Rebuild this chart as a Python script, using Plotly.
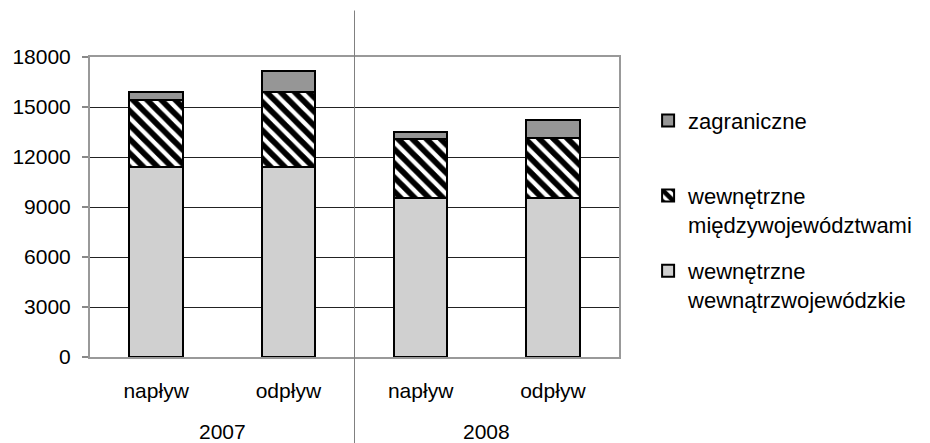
import plotly.graph_objects as go

categories = ["napływ", "odpływ", "napływ", "odpływ"]
years = ["2007", "2007", "2008", "2008"]
series_names = ["wewnętrzne<br>wewnątrzwojewódzkie", "wewnętrzne<br>międzywojewództwami", "zagraniczne<br> "]
wewnatrz = [11380, 11380, 9560, 9560]
miedzy = [4070, 4520, 3500, 3610]
zagraniczne = [450, 1245, 455, 1040]
y_ticks = [0, 3000, 6000, 9000, 12000, 15000, 18000]

xpos = list(range(len(categories)))
font_family = "Liberation Sans, Arial, sans-serif"

fig = go.Figure()
fig.add_trace(go.Bar(
    x=xpos, y=wewnatrz, name=series_names[0], legendgroup="a", legendrank=3,
    marker=dict(color="#d0d0d0", line=dict(color="black", width=2)),
    width=0.405,
))
fig.add_trace(go.Bar(
    x=xpos, y=miedzy, name=series_names[1], legendgroup="b", legendrank=2,
    marker=dict(color="white", line=dict(color="black", width=2),
                pattern=dict(shape="\\", fgcolor="black", bgcolor="white", size=10,
                             solidity=0.58, fgopacity=1)),
    width=0.405,
))
fig.add_trace(go.Bar(
    x=xpos, y=zagraniczne, name=series_names[2], legendgroup="c", legendrank=1,
    marker=dict(color="#969696", line=dict(color="black", width=2)),
    width=0.405,
))

# year labels
for yr in sorted(set(years)):
    idx = [i for i, v in enumerate(years) if v == yr]
    fig.add_annotation(x=sum(idx) / len(idx), y=-0.248, xref="x", yref="paper",
                       text=yr, showarrow=False, yanchor="middle",
                       font=dict(size=21, color="black", family=font_family))

# separator between years
fig.add_shape(type="line", x0=1.5, x1=1.5, xref="x", y0=-0.3, y1=1.155, yref="paper",
              line=dict(color="#808080", width=1), layer="above")

fig.update_layout(
    width=930, height=443,
    margin=dict(l=84, r=303, t=57, b=86),
    barmode="stack",
    plot_bgcolor="white", paper_bgcolor="white",
    font=dict(family=font_family, size=21, color="black"),
    showlegend=True,
    legend=dict(x=1.055, xanchor="left", xref="paper", y=0.858, yanchor="top",
                traceorder="grouped", tracegroupgap=15, valign="top",
                font=dict(size=22, color="black"), bgcolor="rgba(0,0,0,0)"),
    xaxis=dict(range=[-0.5, 3.5], tickvals=xpos, ticktext=categories,
               showline=True, mirror=True, linecolor="#999999", linewidth=2,
               showgrid=False, zeroline=False, ticks="", ticklabelstandoff=14,
               tickfont=dict(size=21, color="black")),
    yaxis=dict(range=[0, 18000], tickvals=y_ticks, ticktext=[str(v) for v in y_ticks],
               showline=True, mirror=True, linecolor="#999999", linewidth=2,
               showgrid=True, gridcolor="#222222", gridwidth=1, zeroline=False,
               ticks="outside", ticklen=6, tickcolor="#888888", tickwidth=2,
               ticklabelstandoff=7,
               tickfont=dict(size=21, color="black")),
)

fig.write_html("out.html", config={"displayModeBar": False},
               post_script="document.body.style.margin='0px';")
